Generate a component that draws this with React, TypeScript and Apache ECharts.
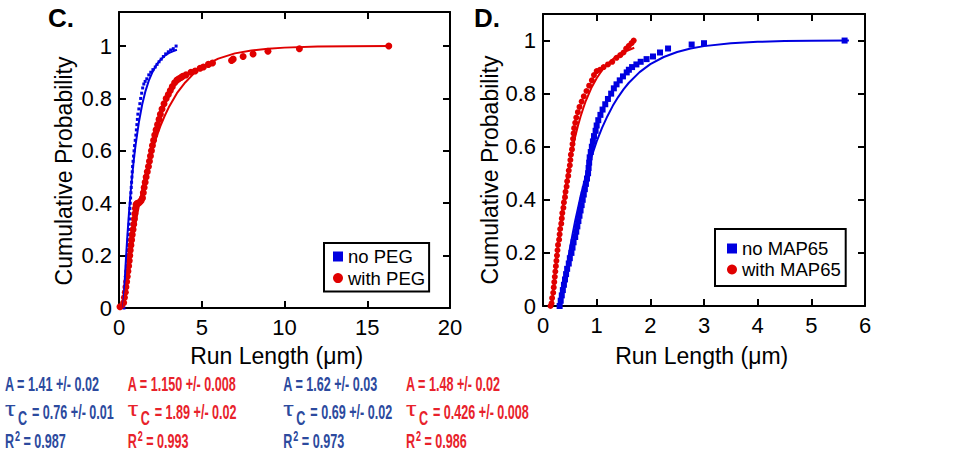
import React, { useEffect, useRef } from "react";
import * as echarts from "echarts";

// ---------- DATA ----------
// Panel C: empirical cumulative probabilities [run length µm, probability]
const noPEG: number[][] = [
  [0.30, 0.00], [0.33, 0.02], [0.35, 0.04], [0.37, 0.06], [0.39, 0.08], [0.40, 0.10],
  [0.42, 0.12], [0.43, 0.14], [0.45, 0.16], [0.47, 0.18], [0.49, 0.20], [0.51, 0.22],
  [0.53, 0.24], [0.55, 0.26], [0.57, 0.28], [0.59, 0.30], [0.61, 0.32], [0.63, 0.34],
  [0.65, 0.36], [0.66, 0.38], [0.68, 0.40], [0.70, 0.42], [0.72, 0.44], [0.74, 0.46],
  [0.76, 0.48], [0.78, 0.50], [0.80, 0.52], [0.82, 0.54], [0.85, 0.56], [0.88, 0.58],
  [0.91, 0.60], [0.94, 0.62], [0.98, 0.64], [1.02, 0.66], [1.05, 0.68], [1.08, 0.70],
  [1.11, 0.72], [1.14, 0.74], [1.20, 0.76], [1.26, 0.78], [1.31, 0.80], [1.37, 0.82],
  [1.43, 0.84], [1.50, 0.855], [1.58, 0.865], [1.68, 0.875], [1.80, 0.89], [1.92, 0.90],
  [2.05, 0.91], [2.19, 0.92], [2.30, 0.93], [2.42, 0.94], [2.55, 0.95], [2.68, 0.96],
  [2.82, 0.97], [2.98, 0.978], [3.12, 0.985], [3.28, 0.99], [3.45, 1.00]
];
const withPEG: number[][] = [
  [0.06, 0.005], [0.28, 0.02], [0.33, 0.04], [0.38, 0.06], [0.42, 0.08], [0.46, 0.10],
  [0.50, 0.12], [0.54, 0.14], [0.58, 0.16], [0.62, 0.18], [0.65, 0.20], [0.68, 0.22],
  [0.72, 0.24], [0.76, 0.26], [0.80, 0.28], [0.85, 0.30], [0.89, 0.32], [0.93, 0.34],
  [0.96, 0.36], [0.99, 0.38], [1.03, 0.395], [1.10, 0.40], [1.18, 0.40], [1.26, 0.405],
  [1.34, 0.41], [1.42, 0.42], [1.47, 0.44], [1.52, 0.46], [1.58, 0.48], [1.64, 0.50],
  [1.71, 0.52], [1.78, 0.54], [1.84, 0.56], [1.90, 0.58], [1.96, 0.60], [2.02, 0.62],
  [2.09, 0.64], [2.16, 0.66], [2.24, 0.68], [2.33, 0.70], [2.42, 0.72], [2.50, 0.74],
  [2.60, 0.76], [2.72, 0.78], [2.85, 0.80], [2.98, 0.815], [3.10, 0.83], [3.22, 0.845],
  [3.36, 0.86], [3.50, 0.87], [3.62, 0.875], [3.75, 0.88], [3.85, 0.885], [4.05, 0.89],
  [4.35, 0.90], [4.60, 0.905], [4.90, 0.915], [5.10, 0.92], [5.40, 0.93], [5.65, 0.935],
  [6.80, 0.945], [6.90, 0.95], [7.50, 0.96], [8.10, 0.97], [9.00, 0.98], [10.9, 0.99],
  [16.3, 1.00]
];
// Panel C: fitted curves
const fitNoPEG: number[][] = [
  [0.26, 0], [0.3, 0.05], [0.4, 0.167], [0.5, 0.27], [0.6, 0.36], [0.7, 0.439], [0.8, 0.508],
  [0.9, 0.569], [1.0, 0.622], [1.2, 0.709], [1.4, 0.777], [1.6, 0.828], [1.8, 0.868],
  [2.0, 0.898], [2.25, 0.927], [2.5, 0.947], [2.75, 0.962], [3.0, 0.973], [3.25, 0.98], [3.5, 0.986]
];
const fitWithPEG: number[][] = [
  [0.264, 0], [0.4, 0.069], [0.6, 0.163], [0.8, 0.247], [1.0, 0.323], [1.25, 0.406],
  [1.5, 0.48], [1.75, 0.544], [2.0, 0.601], [2.25, 0.65], [2.5, 0.694], [2.75, 0.732],
  [3.0, 0.765], [3.5, 0.82], [4.0, 0.861], [4.5, 0.894], [5.0, 0.918], [5.5, 0.937],
  [6.0, 0.952], [7.0, 0.972], [8.0, 0.983], [9.0, 0.99], [10.0, 0.994], [12.0, 0.998],
  [14.0, 0.999], [16.4, 1.0]
];

// Panel D
const noMAP65: number[][] = [
  [0.31, 0.00], [0.33, 0.02], [0.35, 0.04], [0.37, 0.06], [0.39, 0.08], [0.41, 0.10],
  [0.43, 0.12], [0.45, 0.14], [0.48, 0.16], [0.50, 0.18], [0.53, 0.20], [0.55, 0.22],
  [0.57, 0.24], [0.60, 0.26], [0.62, 0.28], [0.64, 0.30], [0.66, 0.32], [0.68, 0.34],
  [0.70, 0.36], [0.72, 0.38], [0.74, 0.40], [0.76, 0.42], [0.78, 0.44], [0.80, 0.46],
  [0.82, 0.48], [0.84, 0.50], [0.85, 0.52], [0.86, 0.54], [0.87, 0.56], [0.89, 0.58],
  [0.91, 0.60], [0.93, 0.62], [0.95, 0.64], [0.98, 0.66], [1.00, 0.68], [1.03, 0.70],
  [1.07, 0.72], [1.11, 0.74], [1.16, 0.76], [1.21, 0.78], [1.27, 0.80], [1.32, 0.82],
  [1.37, 0.835], [1.43, 0.85], [1.49, 0.865], [1.56, 0.88], [1.60, 0.89], [1.66, 0.90],
  [1.74, 0.91], [1.82, 0.92], [1.93, 0.93], [2.05, 0.94], [2.18, 0.955], [2.33, 0.97],
  [2.77, 0.985], [3.00, 0.99], [5.62, 1.00]
];
const withMAP65: number[][] = [
  [0.14, 0.00], [0.16, 0.01], [0.17, 0.03], [0.19, 0.05], [0.20, 0.07], [0.21, 0.09],
  [0.22, 0.11], [0.23, 0.13], [0.24, 0.15], [0.25, 0.17], [0.26, 0.19], [0.27, 0.21],
  [0.28, 0.23], [0.30, 0.25], [0.31, 0.27], [0.32, 0.29], [0.34, 0.31], [0.35, 0.33],
  [0.36, 0.35], [0.38, 0.37], [0.39, 0.39], [0.41, 0.41], [0.42, 0.43], [0.44, 0.45],
  [0.45, 0.47], [0.47, 0.49], [0.48, 0.51], [0.50, 0.53], [0.51, 0.55], [0.52, 0.57],
  [0.54, 0.59], [0.55, 0.61], [0.56, 0.63], [0.57, 0.65], [0.58, 0.67], [0.60, 0.69],
  [0.62, 0.71], [0.65, 0.73], [0.68, 0.75], [0.72, 0.77], [0.76, 0.79], [0.81, 0.81],
  [0.86, 0.83], [0.91, 0.85], [0.95, 0.87], [1.00, 0.885], [1.06, 0.89], [1.13, 0.90],
  [1.21, 0.91], [1.29, 0.92], [1.37, 0.935], [1.44, 0.945], [1.50, 0.955], [1.55, 0.97],
  [1.60, 0.98], [1.65, 0.99], [1.69, 1.00]
];
const fitNoMAP65: number[][] = [
  [0.333, 0], [0.4, 0.093], [0.45, 0.156], [0.5, 0.215], [0.55, 0.27], [0.6, 0.321],
  [0.7, 0.413], [0.8, 0.492], [0.9, 0.56], [1.0, 0.62], [1.1, 0.671], [1.2, 0.715],
  [1.3, 0.754], [1.4, 0.787], [1.5, 0.816], [1.6, 0.841], [1.8, 0.881], [2.0, 0.911],
  [2.25, 0.938], [2.5, 0.957], [2.75, 0.97], [3.0, 0.979], [3.5, 0.99], [4.0, 0.995],
  [4.5, 0.998], [5.0, 0.999], [5.7, 1.0]
];
const fitWithMAP65: number[][] = [
  [0.167, 0], [0.2, 0.075], [0.25, 0.177], [0.3, 0.268], [0.35, 0.349], [0.4, 0.421],
  [0.45, 0.485], [0.5, 0.542], [0.55, 0.593], [0.6, 0.638], [0.65, 0.678], [0.7, 0.714],
  [0.75, 0.745], [0.8, 0.774], [0.9, 0.821], [1.0, 0.858], [1.1, 0.888], [1.2, 0.912],
  [1.35, 0.938], [1.5, 0.956], [1.7, 0.973]
];

// Fit parameter texts (C blue, C red, D blue, D red)
const statA = ["1.41 +/- 0.02", "1.150 +/- 0.008", "1.62 +/- 0.03", "1.48 +/- 0.02"];
const statTau = ["0.76 +/- 0.01", "1.89 +/- 0.02", "0.69 +/- 0.02", "0.426 +/- 0.008"];
const statR2 = ["0.987", "0.993", "0.973", "0.986"];

const panelLabels = ["C.", "D."];
const xTitle = "Run Length (\u03bcm)";
const yTitle = "Cumulative Probability";

// ---------- STYLE / LAYOUT ----------
const FONT = '"Liberation Sans", Arial, Helvetica, sans-serif';
const BLUE = "#0000e0";
const RED = "#e00000";
const TXT_BLUE = "#2c4a9e";
const TXT_RED = "#e8222b";
const statX = [5, 127.7, 283.3, 406];
const statColor = [TXT_BLUE, TXT_RED, TXT_BLUE, TXT_RED];
const SX = 0.6;

function xAxes(gridIndex: number, max: number, interval: number) {
  const base = {
    type: "value",
    gridIndex,
    min: 0,
    max,
    interval,
    axisLine: { show: true, onZero: false, lineStyle: { color: "#000", width: 2 } },
    axisTick: { show: true, inside: true, length: 7, lineStyle: { color: "#000", width: 2 } },
    splitLine: { show: false },
  };
  return [
    { ...base, position: "bottom", axisLabel: { show: true, margin: 8, color: "#000", fontSize: 22, fontFamily: FONT } },
    { ...base, position: "top", axisLabel: { show: false } },
  ];
}
function yAxes(gridIndex: number, max: number) {
  const base = {
    type: "value",
    gridIndex,
    min: 0,
    max,
    interval: 0.2,
    axisLine: { show: true, onZero: false, lineStyle: { color: "#000", width: 2 } },
    axisTick: { show: true, inside: true, length: 7, lineStyle: { color: "#000", width: 2 } },
    splitLine: { show: false },
  };
  return [
    {
      ...base,
      position: "left",
      axisLabel: {
        show: true, margin: 7, color: "#000", fontSize: 22, fontFamily: FONT,
        formatter: (v: number) => (v > 1.001 ? "" : String(+v.toFixed(1))),
      },
    },
    { ...base, position: "right", axisLabel: { show: false } },
  ];
}

function scatter(name: string, data: number[][], axis: number, symbol: string, size: number, color: string) {
  return {
    type: "scatter", name, data, xAxisIndex: axis, yAxisIndex: axis, symbol, symbolSize: size,
    itemStyle: { color, opacity: 1 }, z: 2,
  };
}
function fitLine(name: string, data: number[][], axis: number, color: string) {
  return {
    type: "line", name, data, xAxisIndex: axis, yAxisIndex: axis, showSymbol: false, symbol: "none",
    smooth: false, lineStyle: { color, width: 2 }, itemStyle: { color }, z: 3,
  };
}

function txt(x: number, y: number, text: string, size: number, fill: string, sx: number, weight = "bold") {
  return {
    type: "text", x, y, scaleX: sx, scaleY: 1,
    style: { text, fontSize: size, fontWeight: weight, fontFamily: FONT, fill, verticalAlign: "middle", align: "left" },
  };
}

function statGraphics() {
  const out: any[] = [];
  statA.forEach((a, i) => {
    const x0 = statX[i];
    const c = statColor[i];
    out.push(txt(x0, 383.5, "A = " + a, 21, c, SX));
    out.push(txt(x0, 408.5, "\u03c4", 21, c, 1.25, "normal"));
    out.push(txt(x0 + 13, 417.5, "C", 21, c, SX));
    out.push(txt(x0 + 27, 412, "= " + statTau[i], 21, c, SX));
    out.push(txt(x0, 441, "R", 21, c, SX));
    out.push(txt(x0 + 10, 436.5, "2", 15, c, SX));
    out.push(txt(x0 + 18.5, 441, "= " + statR2[i], 21, c, SX));
  });
  return out;
}

export default function App() {
  const ref = useRef<HTMLDivElement>(null);
  useEffect(() => {
    if (!ref.current) return;
    const chart = echarts.init(ref.current, null, { renderer: "svg" });
    const option: any = {
      animation: false,
      backgroundColor: "#fff",
      grid: [
        { left: 119, top: 12, width: 331, height: 296, containLabel: false },
        { left: 543, top: 14, width: 322, height: 292, containLabel: false },
      ],
      xAxis: [...xAxes(0, 20, 5), ...xAxes(1, 6, 1)],
      yAxis: [...yAxes(0, 1.13), ...yAxes(1, 1.1)],
      legend: [
        {
          orient: "vertical", left: 324, top: 243, itemWidth: 10, itemHeight: 10, itemGap: 2.6,
          padding: [4, 4, 4, 9], borderColor: "#000", borderWidth: 2, selectedMode: false,
          textStyle: { fontSize: 18.5, color: "#000", fontFamily: FONT },
          data: [{ name: "no PEG", icon: "rect" }, { name: "with PEG", icon: "circle" }],
        },
        {
          orient: "vertical", left: 715, top: 229, itemWidth: 10, itemHeight: 10, itemGap: 2,
          padding: [10, 5, 7, 12], borderColor: "#000", borderWidth: 2, selectedMode: false,
          textStyle: { fontSize: 18.5, color: "#000", fontFamily: FONT },
          data: [{ name: "no MAP65", icon: "rect" }, { name: "with MAP65", icon: "circle" }],
        },
      ],
      series: [
        scatter("no PEG", noPEG, 0, "rect", 3, BLUE),
        scatter("with PEG", withPEG, 0, "circle", 7, RED),
        fitLine("no PEG fit", fitNoPEG, 0, BLUE),
        fitLine("with PEG fit", fitWithPEG, 0, RED),
        scatter("no MAP65", noMAP65, 2, "rect", 6, BLUE),
        scatter("with MAP65", withMAP65, 2, "circle", 6, RED),
        fitLine("no MAP65 fit", fitNoMAP65, 2, BLUE),
        fitLine("with MAP65 fit", fitWithMAP65, 2, RED),
      ],
      graphic: [
        { type: "text", x: 48, y: 17.5, style: { text: panelLabels[0], fontSize: 26, fontWeight: "bold", fontFamily: FONT, fill: "#000", verticalAlign: "middle" } },
        { type: "text", x: 474, y: 17.5, style: { text: panelLabels[1], fontSize: 26, fontWeight: "bold", fontFamily: FONT, fill: "#000", verticalAlign: "middle" } },
        { type: "text", x: 63.5, y: 171, rotation: Math.PI / 2, style: { text: yTitle, fontSize: 23, fontFamily: FONT, fill: "#000", align: "center", verticalAlign: "middle" } },
        { type: "text", x: 490, y: 170, rotation: Math.PI / 2, style: { text: yTitle, fontSize: 23, fontFamily: FONT, fill: "#000", align: "center", verticalAlign: "middle" } },
        { type: "text", x: 276.7, y: 356, style: { text: xTitle, fontSize: 23, fontFamily: FONT, fill: "#000", align: "center", verticalAlign: "middle" } },
        { type: "text", x: 701.7, y: 356, style: { text: xTitle, fontSize: 23, fontFamily: FONT, fill: "#000", align: "center", verticalAlign: "middle" } },
        ...statGraphics(),
      ],
    };
    chart.setOption(option);
    return () => chart.dispose();
  }, []);
  return <div ref={ref} style={{ position: "absolute", left: 0, top: 0, width: 968, height: 455 }} />;
}
